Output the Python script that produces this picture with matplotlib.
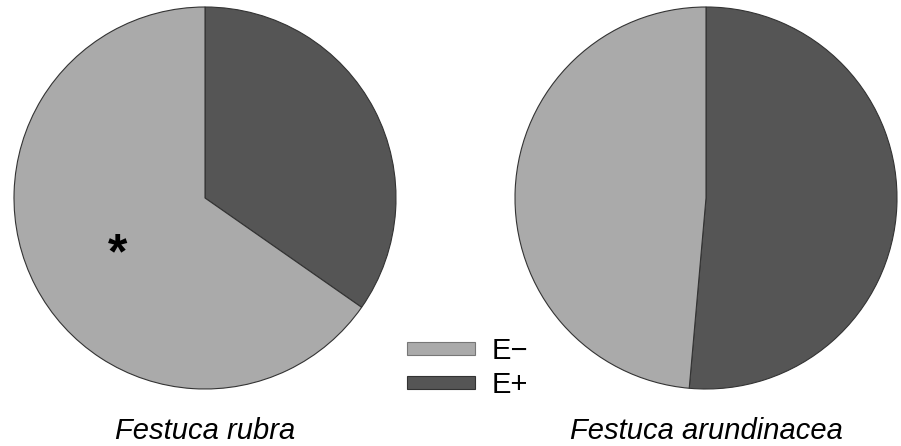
import matplotlib.pyplot as plt
from matplotlib.patches import Patch

plt.rcParams['font.family'] = ['Liberation Sans', 'DejaVu Sans']

species = ['Festuca rubra', 'Festuca arundinacea']
# share of E+ and E- (E+ first, drawn clockwise from 12 o'clock)
e_plus = [34.7, 51.4]
e_minus = [65.3, 48.6]
groups = ['E\u2212', 'E+']
light = '#aaaaaa'
dark = '#555555'

fig = plt.figure(figsize=(9.01, 4.46), dpi=100)

centers = [205, 706]
r = 191
for i in range(2):
    ax = fig.add_axes([(centers[i] - r) / 901, (446 - 198 - r) / 446, 2 * r / 901, 2 * r / 446])
    ax.pie([e_plus[i], e_minus[i]], colors=[dark, light], startangle=90, counterclock=False,
           wedgeprops=dict(edgecolor='#333333', linewidth=0.8))
    ax.set_xlim(-1, 1)
    ax.set_ylim(-1, 1)
    ax.set_aspect('equal')
    fig.text(centers[i] / 901, 1 - 439 / 446, species[i], fontsize=21, style='italic',
             ha='center', va='baseline')
    if i == 0:
        ax.text(-0.46, -0.30, '*', fontsize=36, fontweight='bold', ha='center', va='center')

handles = [Patch(facecolor=light, edgecolor='#777777', linewidth=0.8),
           Patch(facecolor=dark, edgecolor='#333333', linewidth=0.8)]
fig.legend(handles, groups, loc='center', bbox_to_anchor=(468 / 901, 1 - 368 / 446),
           frameon=False, fontsize=21, handlelength=2.3, handleheight=0.28,
           labelspacing=0.2, handletextpad=0.6, borderpad=0)

fig.savefig('out.png', dpi=100)
